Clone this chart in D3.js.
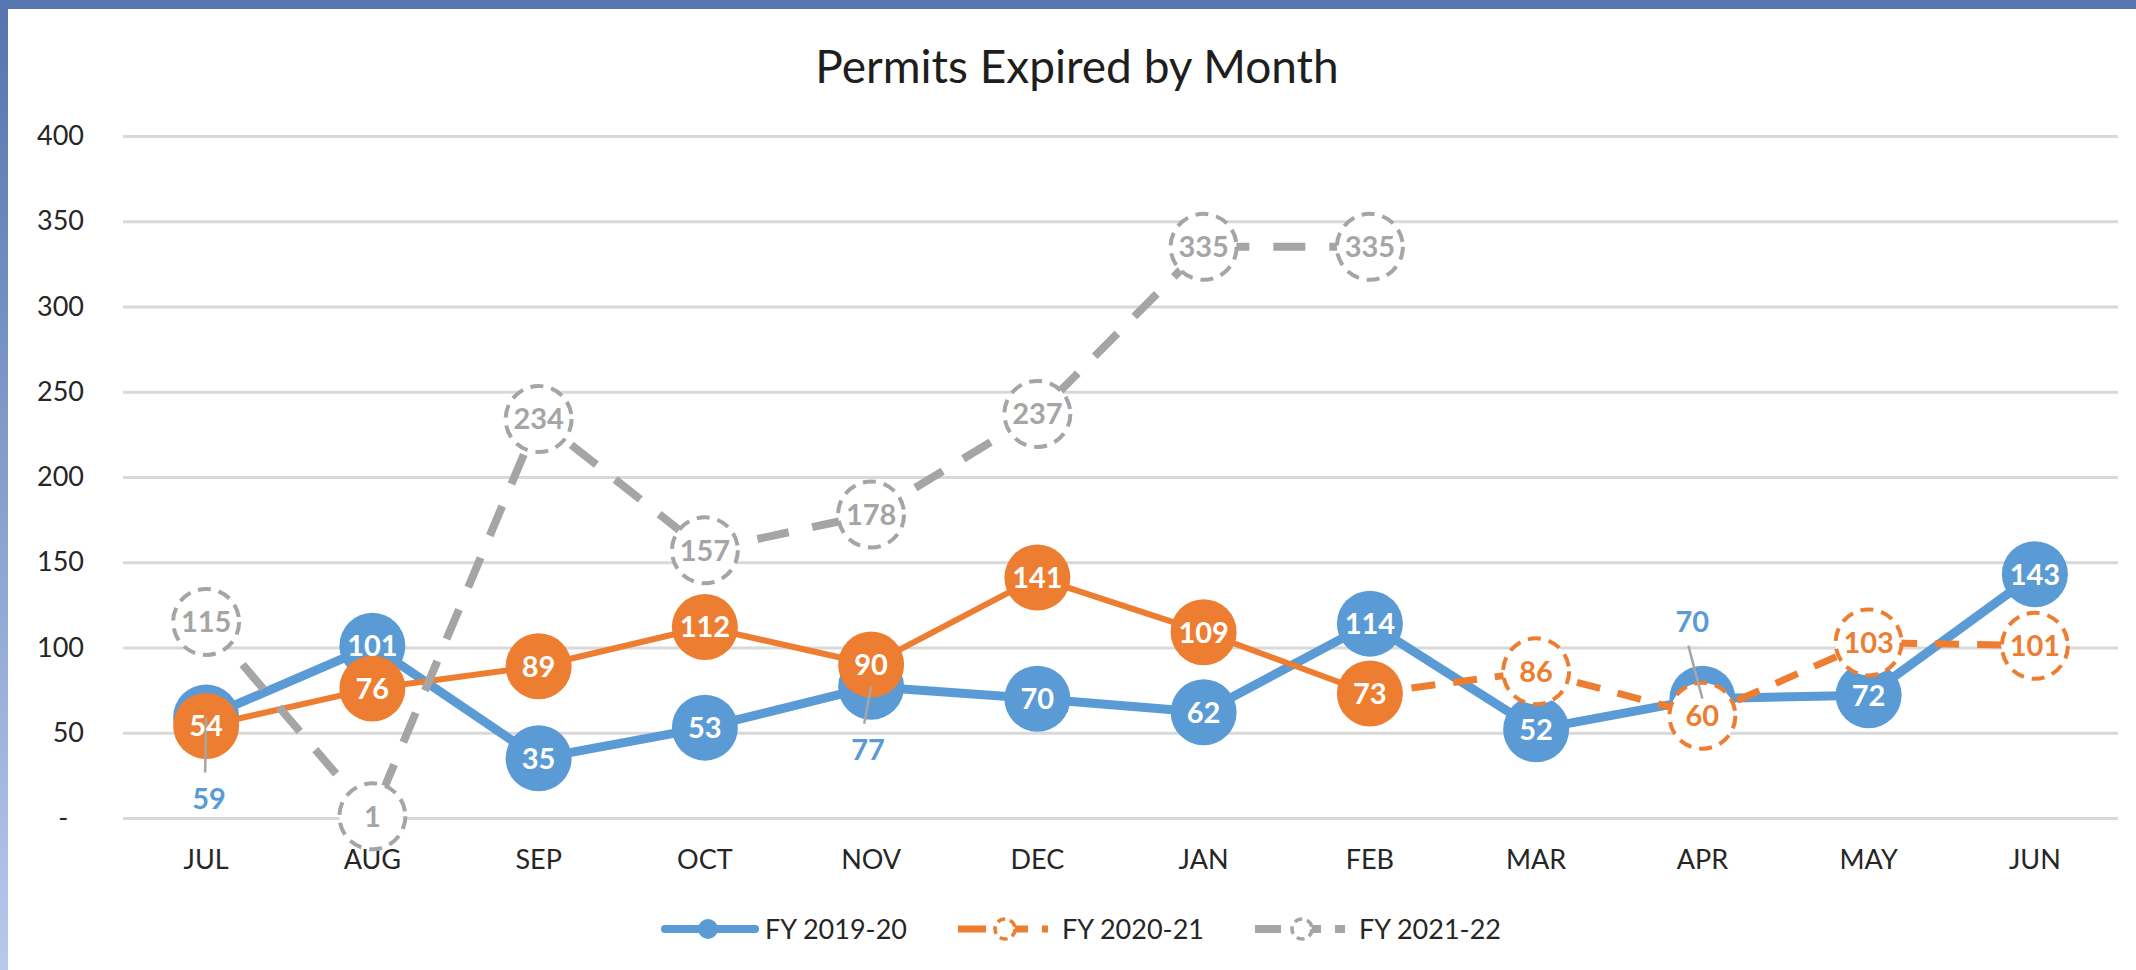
<!DOCTYPE html>
<html>
<head>
<meta charset="utf-8">
<script src="https://cdn.jsdelivr.net/npm/d3@7"></script>
<style>
  html, body { margin: 0; padding: 0; background: #fff; }
  svg { display: block; font-family: Lato, "Open Sans", sans-serif; }
</style>
</head>
<body>
<svg></svg>
<script>
// ---- data ----
const months = ["JUL", "AUG", "SEP", "OCT", "NOV", "DEC", "JAN", "FEB", "MAR", "APR", "MAY", "JUN"];
const seriesNames = ["FY 2019-20", "FY 2020-21", "FY 2021-22"];
const fy1920 = [59, 101, 35, 53, 77, 70, 62, 114, 52, 70, 72, 143];
const fy2021 = [54, 76, 89, 112, 90, 141, 109, 73, 86, 60, 103, 101];
const fy2122 = [115, 1, 234, 157, 178, 237, 335, 335];
const yTicks = [0, 50, 100, 150, 200, 250, 300, 350, 400];
const fy2021DashedFrom = "FEB"; // after this month the FY 2020-21 line is dashed / hollow

// labels moved outside their marker (dx, dy from the point)
const calloutOffsets = {
    "FY 2019-20": { JUL: [3, 81], NOV: [-3, 63], APR: [-10, -77] }
};

const width = 2136;
const height = 970;
const plotLeft = 123;
const plotRight = 2118;
const plotTop = 136;
const plotBottom = 818;

const blue = "#5B9BD5";
const orange = "#ED7D31";
const gray = "#A5A5A5";
const textColor = "#262626";

const svg = d3.select("svg").attr("width", width).attr("height", height);

// frame
const grad = svg.append("defs").append("linearGradient")
    .attr("id", "edge").attr("x1", 0).attr("y1", 0).attr("x2", 0).attr("y2", 1);
grad.append("stop").attr("offset", "0%").attr("stop-color", "#5474ae");
grad.append("stop").attr("offset", "100%").attr("stop-color", "#b7c9ec");

svg.append("rect").attr("width", width).attr("height", height).attr("fill", "#fff");
svg.append("rect").attr("width", 8).attr("height", height).attr("fill", "url(#edge)");
svg.append("rect").attr("width", width).attr("height", 9).attr("fill", "#5677b1");

// title
svg.append("text")
    .attr("x", 1077)
    .attr("y", 83)
    .attr("text-anchor", "middle")
    .style("font-size", "46px")
    .attr("fill", "#1e1e1e")
    .text("Permits Expired by Month");

// scales
const x = d3.scaleBand().domain(months).range([plotLeft, plotRight]);
const cx = (m) => x(m) + x.bandwidth() / 2;
const y = d3.scaleLinear().domain([0, 400]).range([plotBottom, plotTop]);

// y axis + gridlines
const yAxis = d3.axisLeft(y)
    .tickValues(yTicks)
    .tickSize(-(plotRight - plotLeft))
    .tickPadding(39)
    .tickFormat((d) => d === 0 ? "-\u2007" : d);

const gy = svg.append("g").attr("transform", "translate(" + plotLeft + ",0)").call(yAxis);
gy.select(".domain").remove();
gy.selectAll(".tick line").attr("stroke", "#d9d9d9").attr("stroke-width", 3);
gy.selectAll(".tick text").attr("fill", textColor).style("font-size", "27px").style("font-family", "Lato, sans-serif");

// x axis
const gx = svg.append("g").attr("transform", "translate(0," + plotBottom + ")")
    .call(d3.axisBottom(x).tickSize(0).tickPadding(32));
gx.select(".domain").remove();
gx.selectAll(".tick text").attr("fill", textColor).style("font-size", "27px").style("font-family", "Lato, sans-serif");

const toPoints = (vals) => vals.map((v, i) => ({ m: months[i], v: v }));
const line = d3.line().x((d) => cx(d.m)).y((d) => y(d.v));

const pts1920 = toPoints(fy1920);
const pts2021 = toPoints(fy2021);
const pts2122 = toPoints(fy2122);
const splitIdx = months.indexOf(fy2021DashedFrom);

const r = 33;
const hollowDash = "13,8";

// FY 2019-20
svg.append("path").datum(pts1920)
    .attr("d", line).attr("fill", "none")
    .attr("stroke", blue).attr("stroke-width", 9).attr("stroke-linejoin", "round");
svg.append("g").selectAll("circle").data(pts1920).enter().append("circle")
    .attr("cx", (d) => cx(d.m)).attr("cy", (d) => y(d.v)).attr("r", r)
    .attr("fill", blue);

// FY 2020-21
svg.append("path").datum(pts2021.slice(0, splitIdx + 1))
    .attr("d", line).attr("fill", "none")
    .attr("stroke", orange).attr("stroke-width", 6).attr("stroke-linejoin", "round");
svg.append("path").datum(pts2021.slice(splitIdx))
    .attr("d", line).attr("fill", "none")
    .attr("stroke", orange).attr("stroke-width", 7).attr("stroke-dasharray", "24,18");
svg.append("g").selectAll("circle").data(pts2021).enter().append("circle")
    .attr("cx", (d) => cx(d.m)).attr("cy", (d) => y(d.v)).attr("r", r)
    .attr("fill", (d, i) => i <= splitIdx ? orange : "#fff")
    .attr("stroke", (d, i) => i <= splitIdx ? "none" : orange)
    .attr("stroke-width", 4)
    .attr("stroke-dasharray", (d, i) => i <= splitIdx ? null : hollowDash);

// FY 2021-22
svg.append("path").datum(pts2122)
    .attr("d", line).attr("fill", "none")
    .attr("stroke", gray).attr("stroke-width", 8).attr("stroke-dasharray", "32,24");
svg.append("g").selectAll("circle").data(pts2122).enter().append("circle")
    .attr("cx", (d) => cx(d.m)).attr("cy", (d) => y(d.v)).attr("r", r)
    .attr("fill", "#fff").attr("stroke", gray).attr("stroke-width", 4)
    .attr("stroke-dasharray", hollowDash);

// data labels
const labels = [];
pts1920.forEach((d) => labels.push({ s: "FY 2019-20", d: d, fill: "#fff" }));
pts2021.forEach((d, i) => labels.push({ s: "FY 2020-21", d: d, fill: i <= splitIdx ? "#fff" : orange }));
pts2122.forEach((d) => labels.push({ s: "FY 2021-22", d: d, fill: gray }));

labels.forEach((l) => {
    const off = (calloutOffsets[l.s] || {})[l.d.m];
    const px = cx(l.d.m);
    const py = y(l.d.v);
    if (off) {
        l.x = px + off[0];
        l.y = py + off[1];
        l.fill = blue;
        const below = off[1] > 0;
        l.leader = [l.x - 4, below ? l.y - 26 : l.y + 24, px, py];
    } else {
        l.x = px;
        l.y = py;
    }
});

svg.append("g").selectAll("line").data(labels.filter((l) => l.leader)).enter().append("line")
    .attr("x1", (l) => l.leader[0]).attr("y1", (l) => l.leader[1])
    .attr("x2", (l) => l.leader[2]).attr("y2", (l) => l.leader[3])
    .attr("stroke", "#a6a6a6").attr("stroke-width", 2.5);

svg.append("g").selectAll("text").data(labels).enter().append("text")
    .attr("x", (l) => l.x).attr("y", (l) => l.y)
    .attr("dy", "0.36em")
    .attr("text-anchor", "middle")
    .style("font-size", "29px").style("font-weight", "bold")
    .attr("fill", (l) => l.fill)
    .text((l) => l.d.v);

// legend
const legendStyles = [
    { color: blue, width: 8, dash: null, fill: blue, mdash: null, cap: "round" },
    { color: orange, width: 7, dash: "28,14", fill: "#fff", mdash: "8,5", cap: "butt" },
    { color: gray, width: 8, dash: "26,14", fill: "#fff", mdash: "8,5", cap: "butt" }
];
const legend = svg.append("g").selectAll("g").data(seriesNames).enter().append("g")
    .attr("transform", (d, i) => "translate(" + (661 + i * 297) + ",929)");
legend.append("line")
    .attr("x1", (d, i) => legendStyles[i].cap === "round" ? 4 : 0)
    .attr("x2", (d, i) => legendStyles[i].cap === "round" ? 94 : 90)
    .attr("stroke", (d, i) => legendStyles[i].color)
    .attr("stroke-width", (d, i) => legendStyles[i].width)
    .attr("stroke-linecap", (d, i) => legendStyles[i].cap)
    .attr("stroke-dasharray", (d, i) => legendStyles[i].dash);
legend.append("circle")
    .attr("cx", 47).attr("r", 10)
    .attr("fill", (d, i) => legendStyles[i].fill)
    .attr("stroke", (d, i) => legendStyles[i].mdash ? legendStyles[i].color : "none")
    .attr("stroke-width", 3.5)
    .attr("stroke-dasharray", (d, i) => legendStyles[i].mdash);
legend.append("text")
    .attr("x", 104).attr("dy", "0.36em")
    .style("font-size", "27px")
    .attr("fill", textColor)
    .text((d) => d);
</script>
</body>
</html>
